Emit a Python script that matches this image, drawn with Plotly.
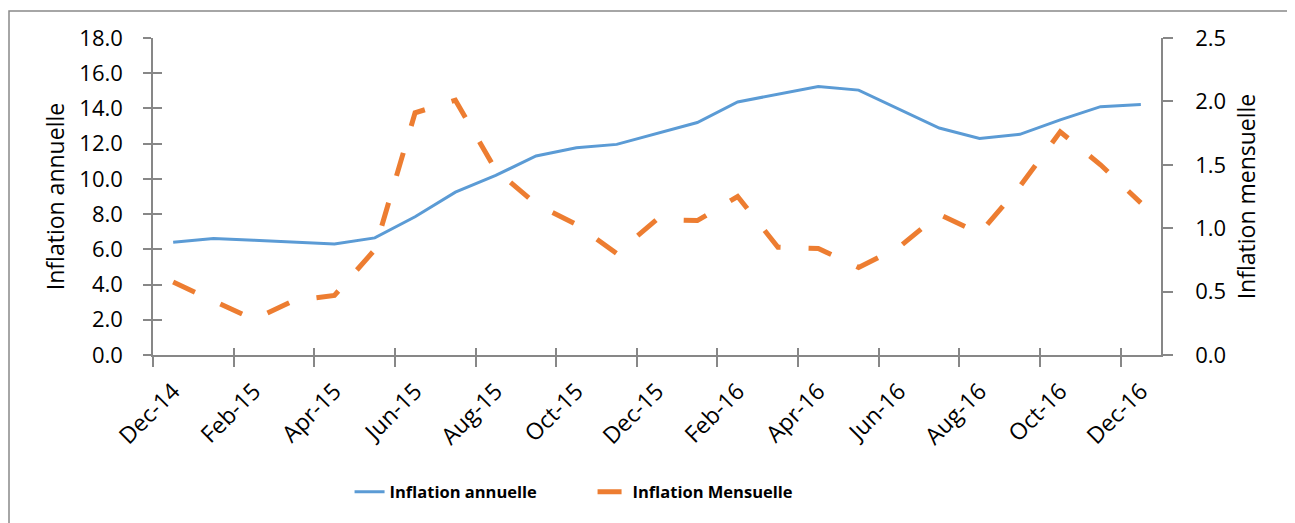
import plotly.graph_objects as go

months = ["Dec-14", "Jan-15", "Feb-15", "Mar-15", "Apr-15", "May-15", "Jun-15", "Jul-15",
          "Aug-15", "Sep-15", "Oct-15", "Nov-15", "Dec-15", "Jan-16", "Feb-16", "Mar-16",
          "Apr-16", "May-16", "Jun-16", "Jul-16", "Aug-16", "Sep-16", "Oct-16", "Nov-16", "Dec-16"]
inflation_annuelle = [6.40, 6.62, 6.52, 6.42, 6.30, 6.65, 7.85, 9.25, 10.2, 11.3, 11.77, 11.96,
                      12.57, 13.2, 14.37, 14.8, 15.25, 15.04, 13.95, 12.89, 12.30, 12.53, 13.35,
                      14.1, 14.22]
inflation_mensuelle = [0.575, 0.43, 0.28, 0.43, 0.47, 0.83, 1.91, 2.01, 1.46, 1.19, 1.03, 0.80,
                       1.07, 1.06, 1.25, 0.85, 0.84, 0.69, 0.85, 1.11, 0.96, 1.33, 1.76, 1.50, 1.20]
left_ticks = [0, 2, 4, 6, 8, 10, 12, 14, 16, 18]
right_ticks = [0, 0.5, 1.0, 1.5, 2.0, 2.5]

idx = list(range(len(months)))
label_pos = idx[::2]
label_txt = months[::2]
boundaries = [i - 0.5 for i in idx[::2]]

AX = "#878787"
FONT = "Open Sans"

fig = go.Figure()
fig.add_trace(go.Scatter(x=idx, y=inflation_annuelle, name="Inflation annuelle", mode="lines",
                         line=dict(color="#5B9BD5", width=3), yaxis="y"))
fig.add_trace(go.Scatter(x=idx, y=inflation_mensuelle, name="Inflation Mensuelle", mode="lines",
                         line=dict(color="#ED7D31", width=5, dash="24px,28px"), yaxis="y2"))
# empty helper so overlay axes render
fig.add_trace(go.Scatter(x=[], y=[], xaxis="x3", yaxis="y3", showlegend=False, hoverinfo="skip"))

fig.update_layout(
    width=1295, height=523,
    margin=dict(l=145, r=142, t=30, b=176),
    paper_bgcolor="white", plot_bgcolor="white",
    font=dict(family=FONT, color="black", size=20),
    showlegend=True,
    xaxis=dict(range=[-0.5, 24.5], tickmode="array", tickvals=label_pos, ticktext=label_txt,
               tickangle=-45, ticks="", showgrid=False, zeroline=False,
               showline=True, linecolor=AX, linewidth=1.5,
               tickfont=dict(size=23), ticklabelstandoff=12,
               minor=dict(tickmode="array", tickvals=boundaries, ticks="outside",
                          ticklen=10, tickcolor=AX, tickwidth=1.5, showgrid=False)),
    xaxis3=dict(range=[-0.5, 24.5], overlaying="x", anchor="y", side="bottom",
                tickmode="array", tickvals=boundaries, ticks="inside", ticklen=7,
                tickcolor=AX, tickwidth=1.5, showticklabels=False, showgrid=False,
                zeroline=False, showline=False),
    yaxis=dict(range=[0, 18], tickmode="array", tickvals=left_ticks, tickformat=".1f",
               ticks="outside", ticklen=8, tickcolor=AX, tickwidth=1.5,
               showgrid=False, zeroline=False, showline=True, linecolor=AX, linewidth=1.5,
               tickfont=dict(size=22), ticklabelstandoff=16,
               title=dict(text="Inflation annuelle", font=dict(size=23), standoff=8)),
    yaxis3=dict(range=[0, 18], overlaying="y", side="left", anchor="x",
                tickmode="array", tickvals=left_ticks, ticks="inside", ticklen=9,
                tickcolor=AX, tickwidth=1.5, showticklabels=False, showgrid=False,
                zeroline=False, showline=False),
    yaxis2=dict(range=[0, 2.5], overlaying="y", side="right", anchor="x",
                tickmode="array", tickvals=right_ticks, tickformat=".1f",
                ticks="outside", ticklen=10, tickcolor=AX, tickwidth=1.5,
                showgrid=False, zeroline=False, showline=True, linecolor=AX, linewidth=1.5,
                tickfont=dict(size=22), ticklabelstandoff=18,
                title=dict(text="Inflation mensuelle", font=dict(size=23), standoff=14)),
    legend=dict(orientation="h", x=0.195, xanchor="left", y=-0.432, yanchor="middle",
                font=dict(size=16.5, family=FONT, weight="bold"),
                entrywidth=198, entrywidthmode="pixels", bgcolor="rgba(0,0,0,0)"),
    shapes=[dict(type="rect", xref="paper", yref="paper",
                 x0=(9 - 153) / 1008, x1=(1293 - 153) / 1008,
                 y0=(355 - 528) / 317, y1=(355 - 11) / 317,
                 line=dict(color="#898989", width=1.5), fillcolor="rgba(0,0,0,0)", layer="below")],
)

fig.write_html("out.html")
